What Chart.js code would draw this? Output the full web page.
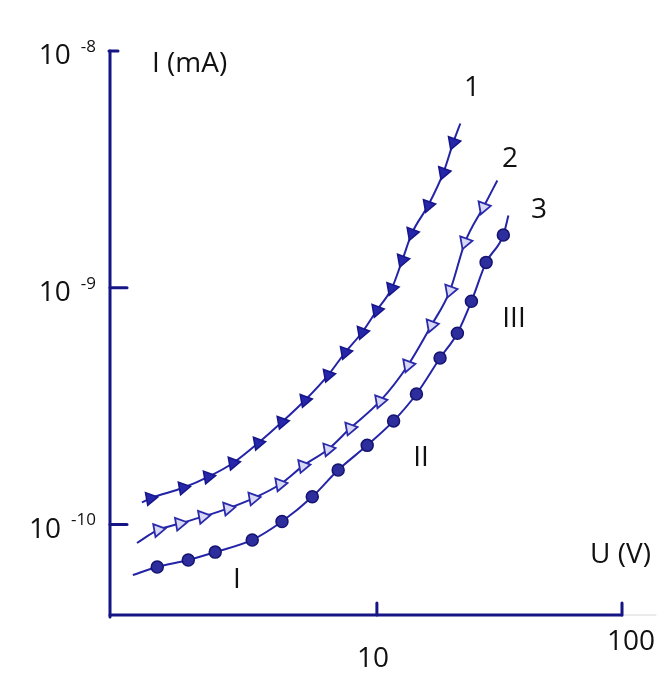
<!DOCTYPE html>
<html><head><meta charset="utf-8">
<script src="https://cdn.jsdelivr.net/npm/chart.js@4/dist/chart.umd.min.js"></script>
<style>html,body{margin:0;padding:0;background:#fff;}#wrap{width:666px;height:673px;position:relative}</style>
</head><body><div id="wrap"><canvas id="c"></canvas></div>
<script>
// Curve 1 (filled triangles)
const voltage1 = [1.19, 1.62, 2.05, 2.59, 3.28, 4.10, 5.09, 6.33, 7.43, 8.71, 10.0, 11.5, 12.7, 13.9, 16.2, 18.7, 20.5];
const current1 = [1.29e-10, 1.43e-10, 1.59e-10, 1.82e-10, 2.21e-10, 2.71e-10, 3.35e-10, 4.28e-10, 5.34e-10, 6.49e-10, 8.04e-10, 9.95e-10, 1.31e-9, 1.70e-9, 2.23e-9, 3.07e-9, 4.11e-9];
// Curve 2 (open triangles)
const voltage2 = [1.28, 1.57, 1.95, 2.47, 3.13, 4.03, 5.00, 6.33, 7.78, 10.3, 13.4, 16.7, 19.9, 22.9, 27.2];
const current2 = [9.49e-11, 1.01e-10, 1.08e-10, 1.17e-10, 1.29e-10, 1.48e-10, 1.77e-10, 2.08e-10, 2.55e-10, 3.32e-10, 4.71e-10, 6.95e-10, 9.76e-10, 1.56e-9, 2.19e-9];
// Curve 3 (circles)
const voltage3 = [1.27, 1.70, 2.19, 3.10, 4.10, 5.45, 6.95, 9.13, 11.7, 14.5, 18.1, 21.3, 24.3, 27.9, 32.8];
const current3 = [6.62e-11, 7.08e-11, 7.65e-11, 8.61e-11, 1.03e-10, 1.31e-10, 1.70e-10, 2.16e-10, 2.74e-10, 3.56e-10, 5.05e-10, 6.43e-10, 8.77e-10, 1.28e-9, 1.67e-9];
// Ends of the drawn fit curves (curves 1, 2, 3)
const lineStartU = [1.10, 1.05, 1.01];
const lineStartI = [1.24e-10, 8.36e-11, 6.12e-11];
const lineEndU = [21.9, 31.0, 34.4];
const lineEndI = [4.94e-9, 2.84e-9, 2.02e-9];
// Axes
const xTicks = [10, 100];
const xTickLabels = ['10', '100'];
const yTicks = [1e-8, 1e-9, 1e-10];
const yTickExponents = ['-8', '-9', '-10'];
const xRange = [0.815, 100];
const yRange = [4.15e-11, 1e-8];
const curveNames = ['1', '2', '3'];
const regionNames = ['I', 'II', 'III'];
const yTitle = 'I (mA)';
const xTitle = 'U (V)';

const LINE = '#2424a8';
const AXIS = '#151585';
const FONT = '"Open Sans", Lato, sans-serif';

function pts(u, i) { return u.map((v, k) => ({x: v, y: i[k]})); }
function fit(u, i, c) { return [{x: lineStartU[c], y: lineStartI[c]}, ...pts(u, i), {x: lineEndU[c], y: lineEndI[c]}]; }

const lineDs = (data) => ({type: 'line', data, showLine: true, borderColor: LINE, borderWidth: 2, pointRadius: 0, cubicInterpolationMode: 'monotone', fill: false, order: 2});

const decor = {
  id: 'decor',
  beforeDatasetsDraw(chart) {
    const ctx = chart.ctx, xs = chart.scales.x, ys = chart.scales.y, a = chart.chartArea;
    ctx.save();
    ctx.strokeStyle = AXIS; ctx.lineWidth = 3; ctx.lineCap = 'round';
    const topY = ys.getPixelForValue(yTicks[0]);
    ctx.beginPath(); ctx.moveTo(a.left, topY); ctx.lineTo(a.left, a.bottom + 2); ctx.stroke();
    ctx.beginPath(); ctx.moveTo(a.left - 1, topY); ctx.lineTo(a.left + 8, topY); ctx.stroke();
    yTicks.slice(1).forEach(v => { const y = ys.getPixelForValue(v); ctx.beginPath(); ctx.moveTo(a.left, y); ctx.lineTo(a.left + 17, y); ctx.stroke(); });
    const x100 = xs.getPixelForValue(xTicks[xTicks.length - 1]);
    ctx.beginPath(); ctx.moveTo(a.left, a.bottom); ctx.lineTo(x100, a.bottom); ctx.stroke();
    xTicks.forEach(v => { const x = xs.getPixelForValue(v); ctx.beginPath(); ctx.moveTo(x, a.bottom); ctx.lineTo(x, a.bottom - 12); ctx.stroke(); });
    ctx.strokeStyle = '#d8d8d8'; ctx.lineWidth = 1;
    ctx.beginPath(); ctx.moveTo(x100 + 2, a.bottom); ctx.lineTo(x100 + 34, a.bottom); ctx.stroke();
    ctx.restore();
  },
  afterDraw(chart) {
    const ctx = chart.ctx, xs = chart.scales.x, ys = chart.scales.y, a = chart.chartArea;
    ctx.save();
    ctx.fillStyle = '#111'; ctx.textBaseline = 'middle';
    yTicks.forEach((v, k) => {
      const y = ys.getPixelForValue(v) + 5;
      ctx.textAlign = 'right';
      ctx.font = '17px ' + FONT;
      const e = yTickExponents[k];
      ctx.fillText(e, 96, y - 9);
      const w = ctx.measureText(e).width;
      ctx.font = '28px ' + FONT;
      ctx.fillText('10', 96 - w - 10, y);
    });
    ctx.font = '28px ' + FONT;
    ctx.textAlign = 'center';
    ctx.fillText(xTickLabels[0], xs.getPixelForValue(xTicks[0]) - 4, a.bottom + 44);
    ctx.fillText(xTickLabels[1], xs.getPixelForValue(xTicks[1]) + 9, a.bottom + 27);
    ctx.textAlign = 'left';
    ctx.fillText(yTitle, 152, 64);
    ctx.fillText(xTitle, 590, 555);
    ctx.textAlign = 'center';
    ctx.fillText(curveNames[0], 472, 88);
    ctx.fillText(curveNames[1], 510, 159);
    ctx.fillText(curveNames[2], 539, 210);
    ctx.fillText(regionNames[0], 237, 580);
    ctx.fillText(regionNames[1], 421, 458);
    ctx.fillText(regionNames[2], 514, 319);
    ctx.restore();
  }
};

new Chart(document.getElementById('c'), {
  type: 'scatter',
  data: {
    datasets: [
      lineDs(fit(voltage1, current1, 0)),
      lineDs(fit(voltage2, current2, 1)),
      lineDs(fit(voltage3, current3, 2)),
      {data: pts(voltage1, current1), pointStyle: 'triangle', rotation: 80, radius: 7.5, backgroundColor: '#2626aa', borderColor: '#16168a', borderWidth: 1.5, order: 1},
      {data: pts(voltage2, current2), pointStyle: 'triangle', rotation: 80, radius: 7.5, backgroundColor: '#d8d8f5', borderColor: '#2a2aaa', borderWidth: 1.8, order: 1},
      {data: pts(voltage3, current3), pointStyle: 'circle', radius: 6, backgroundColor: '#2d2d9e', borderColor: '#141470', borderWidth: 1.5, order: 1}
    ]
  },
  options: {
    responsive: true, maintainAspectRatio: false, animation: false,
    layout: {padding: {left: 110, right: 44, top: 51, bottom: 58}},
    plugins: {legend: {display: false}, tooltip: {enabled: false}},
    scales: {
      x: {type: 'logarithmic', min: xRange[0], max: xRange[1], display: false},
      y: {type: 'logarithmic', min: yRange[0], max: yRange[1], display: false}
    }
  },
  plugins: [decor]
});
</script></body></html>
